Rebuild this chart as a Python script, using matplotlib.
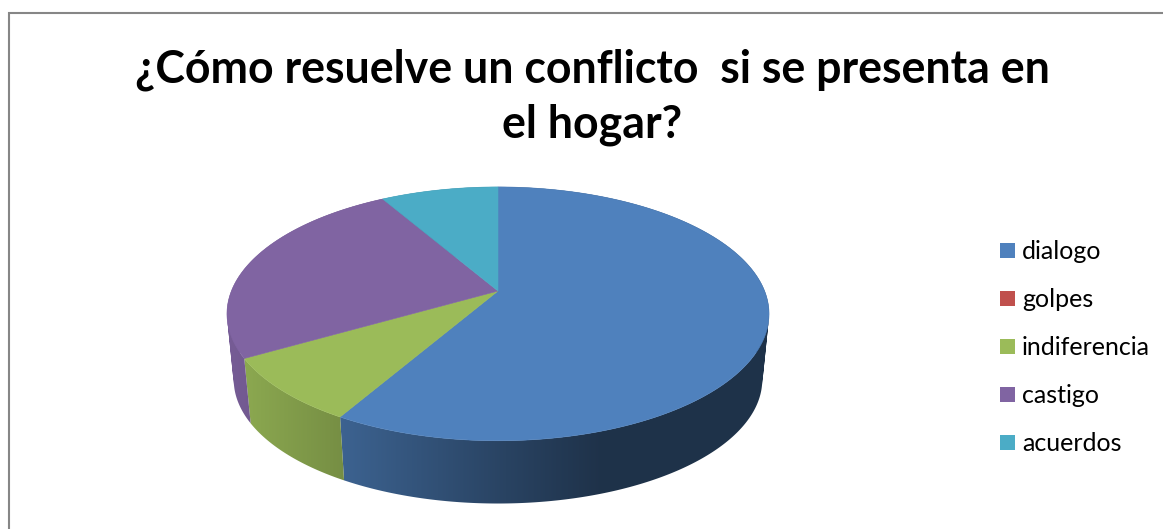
import numpy as np
import matplotlib
matplotlib.use("Agg")
import matplotlib.pyplot as plt
from matplotlib.colors import to_rgb
from matplotlib.path import Path
from matplotlib.patches import Rectangle, Polygon, PathPatch

# ---- data ----
title = "¿Cómo resuelve un conflicto  si se presenta en\nel hogar?"
categories = ["dialogo", "golpes", "indiferencia", "castigo", "acuerdos"]
values = [7, 0, 1, 3, 1]
colors = ["#4F81BD", "#C0504D", "#9BBB59", "#8064A2", "#4BACC6"]

# ---- layout (pixels) ----
W, H = 1163, 529
cx, cy = 498.0, 291.0      # pie vertex on screen
R, C, K = 266.6, 122.8, 0.18  # projected radius, vertical scale, perspective
depth_scale, depth_dy = 0.975, 66.5


def project(theta):
    """theta: degrees clockwise from 12 o'clock -> screen offsets"""
    t = np.radians(theta)
    x, y = np.sin(t), np.cos(t)
    d = 1 + K * y
    return R * x / d, C * y / d


def ribbon_path(tx, ty, bx, by):
    """Union of consistently wound quads between the top and bottom arcs."""
    verts, codes = [], []
    for j in range(len(tx) - 1):
        q = [(tx[j], ty[j]), (tx[j + 1], ty[j + 1]), (bx[j + 1], by[j + 1]), (bx[j], by[j])]
        area = sum(q[n][0] * q[(n + 1) % 4][1] - q[(n + 1) % 4][0] * q[n][1] for n in range(4))
        if area < 0:
            q = q[::-1]
        verts += q + [q[0]]
        codes += [Path.MOVETO, Path.LINETO, Path.LINETO, Path.LINETO, Path.CLOSEPOLY]
    return Path(verts, codes)


fig = plt.figure(figsize=(W / 100, H / 100), dpi=100)
ax = fig.add_axes([0, 0, 1, 1])

# frame (continues past the right and bottom edges)
ax.plot([8.5, 8.5, W + 5], [H + 5, 12.5, 12.5], color="#868686", lw=1.5,
        solid_joinstyle="miter", zorder=1)

# side shading by horizontal screen position
shade_x = [230, 344, 498, 600, 770]
shade_f = [0.92, 0.76, 0.53, 0.39, 0.39]
grad_x = np.linspace(220, 780, 561)
grad_f = np.interp(grad_x, shade_x, shade_f)

total = sum(values)
edges = np.concatenate([[0], np.cumsum(values)]) / total * 360

for i, col in enumerate(colors):
    a0, a1 = edges[i], edges[i + 1]
    if a1 <= a0:
        continue
    th = np.linspace(a0, a1, int((a1 - a0) * 2) + 2)
    X, Y = project(th)
    tx, ty = cx + X, cy - Y
    bx, by = cx + depth_scale * X, cy - depth_scale * Y + depth_dy
    rgb = np.array(to_rgb(col))
    band = PathPatch(ribbon_path(tx, ty, bx, by), facecolor="none", edgecolor="none",
                     transform=ax.transData)
    ax.add_patch(band)
    img = grad_f[None, :, None] * rgb[None, None, :]
    im = ax.imshow(img, extent=(grad_x[0], grad_x[-1], 520, 180), aspect="auto",
                   interpolation="bilinear", zorder=2)
    im.set_clip_path(band)
    # top face
    pts = np.column_stack([np.r_[cx, tx], np.r_[cy, ty]])
    ax.add_patch(Polygon(pts, closed=True, facecolor=col, edgecolor=col, lw=0.4, zorder=3))

ax.set_xlim(0, W)
ax.set_ylim(H, 0)
ax.axis("off")

# title
ax.text(592, 97, title, ha="center", va="center", multialignment="center",
        fontfamily="Lato", fontweight="bold", fontsize=32.1, linespacing=1.38,
        color="black", zorder=5)

# legend
for k, (name, col) in enumerate(zip(categories, colors)):
    yc = 250 + 48 * k
    ax.add_patch(Rectangle((1000, yc - 7.5), 15, 15, facecolor=col, edgecolor="none", zorder=5))
    ax.text(1022, yc - 0.5, name, ha="left", va="center_baseline", fontfamily="Lato",
            fontsize=18, color="black", zorder=5)

fig.savefig("out.png", dpi=100, facecolor="white")
